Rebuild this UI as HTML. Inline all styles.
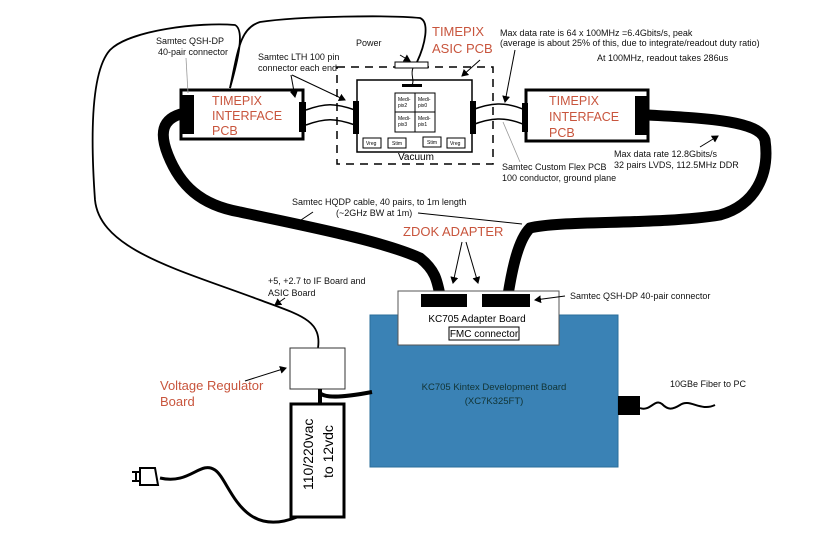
<!DOCTYPE html>
<html><head><meta charset="utf-8"><style>
html,body{margin:0;padding:0;background:#fff;}
svg{display:block;font-family:"Liberation Sans",sans-serif;}
.t{font-size:9px;fill:#111;}
.r{fill:#c8553d;font-size:13px;}
.p{fill:#c8553d;font-size:12.5px;}
</style></head><body>
<svg width="826" height="543" viewBox="0 0 826 543" xmlns="http://www.w3.org/2000/svg">
<defs><marker id="a" markerWidth="8" markerHeight="8" refX="6" refY="4" orient="auto"><path d="M0,0 L7,4 L0,8 Z" fill="#000"/></marker></defs>
<path d="M318,348 C322,320 300,315 260,300 C180,270 100,250 95,200 C90,130 92,70 110,50 C130,30 200,22 235,25 C245,30 238,60 230,88" fill="none" stroke="#000" stroke-width="1.8"/>
<path d="M230,88 C238,50 240,28 260,22 C300,16 390,15 420,18 C430,22 425,45 417,62" fill="none" stroke="#000" stroke-width="1.8"/>
<path d="M185,113 C160,118 160,135 168,155 C180,185 200,205 240,212 C300,225 380,240 420,258 C435,270 437,280 440,295" fill="none" stroke="#000" stroke-width="11"/>
<path d="M648,115 C700,118 760,120 765,140 C770,175 755,205 720,215 C660,225 560,220 530,228 C518,240 512,270 508,295" fill="none" stroke="#000" stroke-width="11"/>
<rect x="181" y="90" width="122" height="49" fill="#fff" stroke="#000" stroke-width="3"/>
<rect x="180" y="95" width="14" height="39" fill="#000"/>
<rect x="299" y="102" width="7" height="30" fill="#000"/>
<text class="p" x="212" y="105">TIMEPIX</text><text class="p" x="212" y="120">INTERFACE</text><text class="p" x="212" y="135">PCB</text>
<path d="M306,110 C325,103 335,103 355,110 M306,125 C325,118 335,118 355,125" fill="none" stroke="#000" stroke-width="1.5"/>
<path d="M472,110 C490,103 505,101 525,110 M472,125 C490,118 505,116 525,125" fill="none" stroke="#000" stroke-width="1.5"/>
<rect x="337" y="67" width="156" height="97" fill="none" stroke="#000" stroke-width="1.5" stroke-dasharray="8,6"/>
<rect x="357" y="80" width="115" height="72" fill="#fff" stroke="#000" stroke-width="1.5"/>
<rect x="395" y="62" width="33" height="6" fill="#fff" stroke="#000"/>
<path d="M413,68 C410,75 415,80 412,85" stroke="#000" fill="none"/>
<rect x="402" y="84" width="20" height="3" fill="#000"/>
<rect x="353" y="101" width="6" height="33" fill="#000"/>
<rect x="470" y="101" width="6" height="33" fill="#000"/>
<g stroke="#000" stroke-width="1" fill="#fff">
<rect x="395" y="93" width="20" height="19"/><rect x="415" y="93" width="20" height="19"/>
<rect x="395" y="112" width="20" height="20"/><rect x="415" y="112" width="20" height="20"/>
<rect x="363" y="138" width="18" height="10"/><rect x="388" y="138" width="18" height="10"/>
<rect x="423" y="137" width="18" height="10"/><rect x="447" y="138" width="18" height="10"/>
</g>
<g font-size="5" fill="#000"><text x="398" y="101">Medi-</text><text x="398" y="107">pix2</text><text x="418" y="101">Medi-</text><text x="418" y="107">pix0</text>
<text x="398" y="120">Medi-</text><text x="398" y="126">pix3</text><text x="418" y="120">Medi-</text><text x="418" y="126">pix1</text>
<text x="366" y="145">Vreg</text><text x="392" y="145">Stim</text><text x="427" y="144">Stim</text><text x="450" y="145">Vreg</text></g>
<text x="398" y="160" font-size="10">Vacuum</text>
<text class="r" x="432" y="36" font-size="14">TIMEPIX</text><text class="r" x="432" y="53" font-size="14">ASIC PCB</text>
<line x1="480" y1="60" x2="462" y2="76" stroke="#000" marker-end="url(#a)"/>
<text class="t" x="356" y="46">Power</text>
<line x1="400" y1="55" x2="410" y2="61" stroke="#000" marker-end="url(#a)"/>
<text class="t" x="258" y="60">Samtec LTH 100 pin</text><text class="t" x="258" y="71">connector each end</text>
<line x1="292" y1="75" x2="345" y2="100" stroke="#000" marker-end="url(#a)"/>
<line x1="291" y1="75" x2="295" y2="97" stroke="#000" marker-end="url(#a)"/>
<text class="t" x="156" y="44">Samtec QSH-DP</text><text class="t" x="158" y="55">40-pair connector</text>
<line x1="186" y1="58" x2="188" y2="93" stroke="#999" stroke-width="0.8"/>
<rect x="526" y="90" width="122" height="51" fill="#fff" stroke="#000" stroke-width="3"/>
<rect x="635" y="96" width="14" height="39" fill="#000"/>
<rect x="522" y="103" width="6" height="29" fill="#000"/>
<text class="p" x="549" y="105">TIMEPIX</text><text class="p" x="549" y="121">INTERFACE</text><text class="p" x="549" y="137">PCB</text>
<text class="t" x="500" y="36">Max data rate is 64 x 100MHz =6.4Gbits/s, peak</text>
<text class="t" x="500" y="46">(average is about 25% of this, due to integrate/readout duty ratio)</text>
<text class="t" x="597" y="61">At 100MHz, readout takes 286us</text>
<line x1="515" y1="50" x2="505" y2="102" stroke="#000" marker-end="url(#a)"/>
<text class="t" x="502" y="170">Samtec Custom Flex PCB</text><text class="t" x="502" y="181">100 conductor, ground plane</text>
<line x1="520" y1="162" x2="503" y2="122" stroke="#999" stroke-width="0.8"/>
<text class="t" x="614" y="157">Max data rate 12.8Gbits/s</text><text class="t" x="614" y="168">32 pairs LVDS, 112.5MHz DDR</text>
<line x1="700" y1="147" x2="718" y2="136" stroke="#000" marker-end="url(#a)"/>
<text class="t" x="292" y="205">Samtec HQDP cable, 40 pairs, to 1m length</text>
<text class="t" x="336" y="216">(~2GHz BW at 1m)</text>
<line x1="313" y1="212" x2="292" y2="226" stroke="#000" marker-end="url(#a)"/>
<line x1="418" y1="213" x2="522" y2="224" stroke="#000"/>
<text class="r" x="403" y="236" font-size="14">ZDOK ADAPTER</text>
<line x1="462" y1="242" x2="453" y2="283" stroke="#000" marker-end="url(#a)"/>
<line x1="466" y1="242" x2="478" y2="283" stroke="#000" marker-end="url(#a)"/>
<rect x="370" y="315" width="248" height="152" fill="#3a82b5" stroke="#2a6d9a"/>
<text x="494" y="390" font-size="9.5" fill="#133" text-anchor="middle">KC705 Kintex Development Board</text>
<text x="494" y="404" font-size="9.5" fill="#133" text-anchor="middle">(XC7K325FT)</text>
<rect x="398" y="291" width="161" height="54" fill="#fff" stroke="#555"/>
<rect x="421" y="294" width="46" height="13" fill="#000"/>
<rect x="482" y="294" width="48" height="13" fill="#000"/>
<text x="477" y="322" font-size="10" text-anchor="middle">KC705 Adapter Board</text>
<rect x="449" y="327" width="70" height="13" fill="#fff" stroke="#000"/>
<text x="484" y="337" font-size="10" text-anchor="middle">FMC connector</text>
<text class="t" x="570" y="299">Samtec QSH-DP 40-pair connector</text>
<line x1="565" y1="296" x2="535" y2="300" stroke="#000" marker-end="url(#a)"/>
<text class="t" x="268" y="284">+5, +2.7 to IF Board and</text><text class="t" x="268" y="296">ASIC Board</text>
<line x1="285" y1="298" x2="275" y2="305" stroke="#000" marker-end="url(#a)"/>
<rect x="290" y="348" width="55" height="41" fill="#fff" stroke="#333"/>
<text class="r" x="160" y="390">Voltage Regulator</text><text class="r" x="160" y="406">Board</text>
<line x1="245" y1="381" x2="286" y2="368" stroke="#000" marker-end="url(#a)"/>
<path d="M320,389 L320,403 M320,393 C325,398 340,398 372,392" stroke="#000" stroke-width="4" fill="none"/>
<rect x="291" y="404" width="53" height="113" fill="#fff" stroke="#000" stroke-width="3"/>
<text transform="translate(313,490) rotate(-90)" font-size="14">110/220vac</text>
<text transform="translate(333,478) rotate(-90)" font-size="14">to 12vdc</text>
<path d="M297,517 C240,540 230,480 215,470 C200,460 190,485 160,478" stroke="#000" stroke-width="3" fill="none"/>
<path d="M140,468 L155,468 L158,485 L140,485 Z" fill="#fff" stroke="#000" stroke-width="2"/>
<path d="M132,472 L140,472 M132,481 L140,481 M136,472 L136,481" stroke="#000" stroke-width="2"/>
<rect x="618" y="396" width="22" height="19" fill="#000"/>
<path d="M640,408 C650,412 655,398 662,404 C668,410 672,410 680,405 C690,398 700,412 715,405" stroke="#000" stroke-width="2" fill="none"/>
<text class="t" x="670" y="387">10GBe Fiber to PC</text>
</svg>
</body></html>
